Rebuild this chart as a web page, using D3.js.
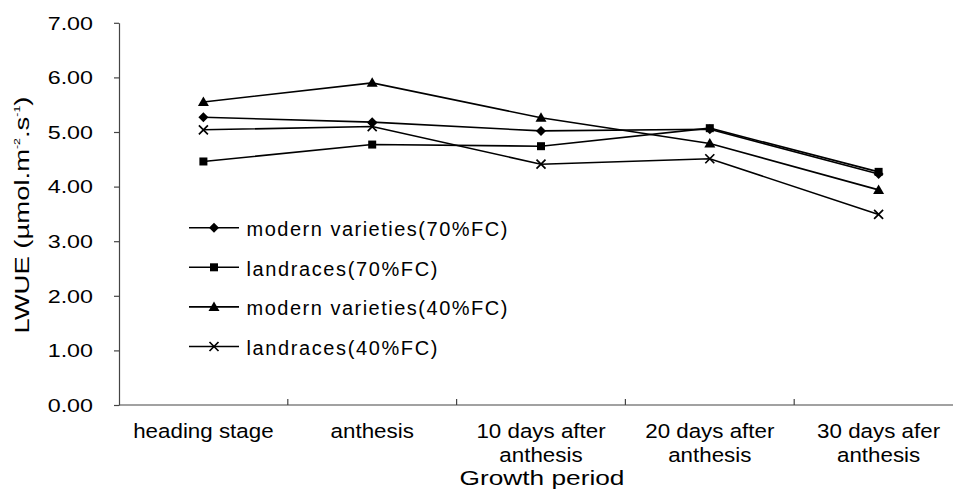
<!DOCTYPE html>
<html>
<head>
<meta charset="utf-8">
<script src="https://cdn.jsdelivr.net/npm/d3@7/dist/d3.min.js"></script>
<style>
  html, body { margin: 0; padding: 0; background: #fff; }
  svg { display: block; }
  text { font-family: "Liberation Sans", Arial, Helvetica, sans-serif; fill: #000; }
</style>
</head>
<body>
<svg id="chart" width="953" height="489"></svg>
<script>
// ---- data ----
const categories = ["heading stage", "anthesis", "10 days after\nanthesis", "20 days after\nanthesis", "30 days afer\nanthesis"];
const seriesNames = ["modern varieties(70%FC)", "landraces(70%FC)", "modern varieties(40%FC)", "landraces(40%FC)"];
const modern70 = [5.27, 5.18, 5.02, 5.05, 4.23];
const land70   = [4.46, 4.77, 4.74, 5.07, 4.27];
const modern40 = [5.55, 5.90, 5.26, 4.79, 3.94];
const land40   = [5.04, 5.10, 4.41, 4.51, 3.49];
const yTicks = [0, 1, 2, 3, 4, 5, 6, 7];
const markers = ["diamond", "square", "triangle", "cross"];

const series = [modern70, land70, modern40, land40];

// ---- layout ----
const svg = d3.select("#chart");
const x0 = 119, x1 = 963, yBottom = 405, yTop = 22.8;

const x = d3.scaleBand().domain(categories).range([x0, x1]).padding(0);
const y = d3.scaleLinear().domain([0, 7]).range([yBottom, yTop]);

function stretch(sel, factor, adjust) {
  sel.each(function () {
    const len = this.getComputedTextLength();
    d3.select(this).attr("textLength", len * factor).attr("lengthAdjust", adjust || "spacingAndGlyphs");
  });
}

// y axis
const yAxis = svg.append("g")
  .attr("transform", `translate(${x0},0)`)
  .call(d3.axisLeft(y).tickValues(yTicks).tickFormat(d3.format(".2f"))
    .tickSize(5).tickSizeOuter(0).tickPadding(21));
yAxis.select(".domain").attr("stroke", "#444").attr("stroke-width", 1.2);
yAxis.selectAll(".tick line").attr("stroke", "#444").attr("stroke-width", 1.2);
yAxis.selectAll(".tick text")
  .attr("font-family", "Liberation Sans, Arial, sans-serif")
  .attr("font-size", 17.5)
  .attr("fill", "#000")
  .attr("dy", "0.36em");
stretch(yAxis.selectAll(".tick text"), 1.33);

// x axis line and inner ticks at category boundaries
const xAxis = svg.append("g");
xAxis.append("line")
  .attr("x1", x0).attr("x2", 953).attr("y1", yBottom).attr("y2", yBottom)
  .attr("stroke", "#444").attr("stroke-width", 1.2);
xAxis.selectAll("line.tk")
  .data(categories.slice(1))
  .join("line").attr("class", "tk")
  .attr("x1", d => x(d)).attr("x2", d => x(d))
  .attr("y1", yBottom).attr("y2", yBottom - 6)
  .attr("stroke", "#444").attr("stroke-width", 1.2);

// x tick labels
const xl = xAxis.selectAll("text.xl")
  .data(categories)
  .join("text").attr("class", "xl")
  .attr("text-anchor", "middle")
  .attr("font-size", 20.5);
xl.each(function (d) {
  const t = d3.select(this);
  const cx = x(d) + x.bandwidth() / 2;
  d.split("\n").forEach((line, i) => {
    t.append("tspan").attr("x", cx).attr("y", 438 + i * 23.5).text(line);
  });
});
xl.selectAll("tspan").each(function () {
  const len = this.getComputedTextLength();
  d3.select(this).attr("textLength", len * 1.09).attr("lengthAdjust", "spacingAndGlyphs");
});

// axis titles
const xt = svg.append("text")
  .attr("x", 542).attr("y", 485)
  .attr("text-anchor", "middle")
  .attr("font-size", 21)
  .text("Growth period");
stretch(xt, 1.25);

const yt = svg.append("text")
  .attr("transform", "translate(28.5,215) rotate(-90)")
  .attr("text-anchor", "middle")
  .attr("font-size", 20);
yt.append("tspan").text("LWUE (\u00b5mol.m");
yt.append("tspan").attr("font-size", 9).attr("dy", -9).text("-2");
yt.append("tspan").attr("dy", 9).text(".s");
yt.append("tspan").attr("font-size", 9).attr("dy", -9).text("-1");
yt.append("tspan").attr("dy", 9).text(")");
yt.attr("textLength", 237).attr("lengthAdjust", "spacingAndGlyphs");

// marker drawing
function drawMarker(g, type, cx, cy) {
  if (type === "diamond") {
    g.append("path").attr("d", `M${cx},${cy - 5}L${cx + 5},${cy}L${cx},${cy + 5}L${cx - 5},${cy}Z`).attr("fill", "#000");
  } else if (type === "square") {
    g.append("rect").attr("x", cx - 4).attr("y", cy - 4).attr("width", 8).attr("height", 8).attr("fill", "#000");
  } else if (type === "triangle") {
    g.append("path").attr("d", `M${cx},${cy - 5.5}L${cx + 5.5},${cy + 4}L${cx - 5.5},${cy + 4}Z`).attr("fill", "#000");
  } else {
    g.append("path").attr("d", `M${cx - 4.5},${cy - 4.5}L${cx + 4.5},${cy + 4.5}M${cx - 4.5},${cy + 4.5}L${cx + 4.5},${cy - 4.5}`)
      .attr("stroke", "#000").attr("stroke-width", 1.7).attr("fill", "none");
  }
}

// lines
const line = d3.line()
  .x((d, i) => x(categories[i]) + x.bandwidth() / 2)
  .y(d => y(d));

const plot = svg.append("g");
series.forEach((vals, si) => {
  plot.append("path").datum(vals)
    .attr("d", line)
    .attr("fill", "none").attr("stroke", "#000").attr("stroke-width", 1.6);
});
series.forEach((vals, si) => {
  const g = plot.append("g");
  vals.forEach((v, i) => drawMarker(g, markers[si], x(categories[i]) + x.bandwidth() / 2, y(v)));
});

// legend
const legend = svg.append("g");
seriesNames.forEach((name, i) => {
  const ly = 227.7 + i * 39.6;
  const g = legend.append("g");
  g.append("line").attr("x1", 189).attr("x2", 239).attr("y1", ly).attr("y2", ly)
    .attr("stroke", "#000").attr("stroke-width", 1.6);
  drawMarker(g, markers[i], 214, ly);
  const t = g.append("text").attr("x", 246.5).attr("y", ly + 8.5)
    .attr("font-size", 20).text(name);
  stretch(t, 1.145, "spacing");
});
</script>
</body>
</html>
